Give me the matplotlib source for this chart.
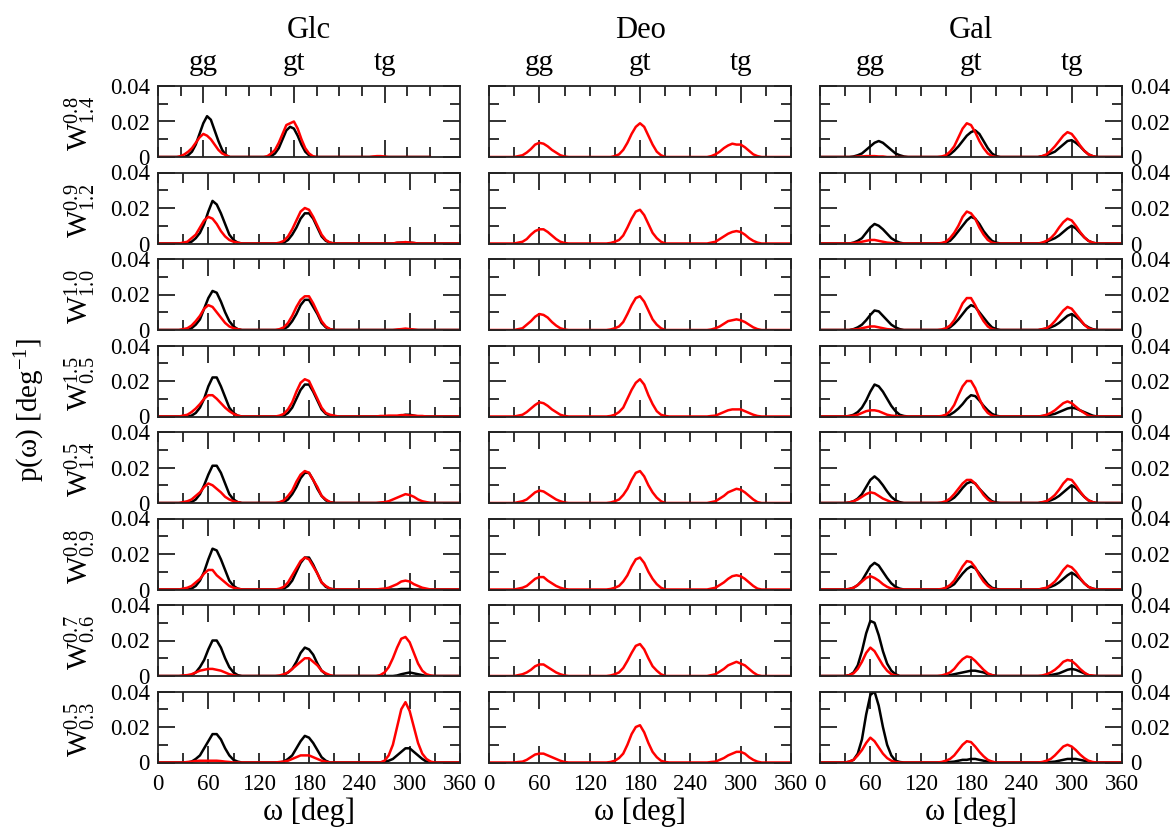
import numpy as np
import matplotlib.pyplot as plt
from matplotlib.ticker import FixedLocator, FuncFormatter

plt.rcParams['font.family'] = 'Liberation Serif'
plt.rcParams['mathtext.fontset'] = 'custom'
plt.rcParams['mathtext.rm'] = 'Liberation Serif'
plt.rcParams['mathtext.it'] = 'Liberation Serif:italic'

# histogram grid (deg); p(omega) is zero outside the three rotamer windows
omega = np.arange(0, 361, 5)
gg_deg = np.arange(25, 101, 5)
gt_deg = np.arange(135, 221, 5)
tg_deg = np.arange(250, 346, 5)

columns = ['Glc', 'Deo', 'Gal']
rotamers = ['gg', 'gt', 'tg']
row_labels = [r'$\mathrm{W}^{0.8}_{1.4}$', r'$\mathrm{W}^{0.9}_{1.2}$',
              r'$\mathrm{W}^{1.0}_{1.0}$', r'$\mathrm{W}^{1.5}_{0.5}$',
              r'$\mathrm{W}^{0.5}_{1.4}$', r'$\mathrm{W}^{0.8}_{0.9}$',
              r'$\mathrm{W}^{0.7}_{0.6}$', r'$\mathrm{W}^{0.5}_{0.3}$']

# values in units of 1e-3 deg^-1, one list per row
glc_black_gg = [
    [0,0,0,1,3,7,13,19,23,21,15,9,4,1,0,0],
    [0,0,0.5,1,3,6,11,18,24,22,17,11,5,2,0.5,0],
    [0,0,0,1,3,6,12,18,22,21,16,10,5,2,0.5,0],
    [0,0,0,0.5,2,5,10,17,22,22,17,11,5,2,0.5,0],
    [0,0,0,0.5,2,5,10,16,21,21,17,11,5,2,0.5,0],
    [0,0,0,0.5,2,5,10,17,23,22,17,11,5,2,0.5,0],
    [0,0,0,0.5,2,5,9,15,20,20,16,10,5,2,0.5,0],
    [0,0,0,0.5,2,4,8,12,16,16,13,8,4,1.5,0.5,0],
]
glc_black_gt = [
    [0,0,0,0.5,2,5,10,15,17,16,12,7,3,1,0,0,0,0],
    [0,0,0,0.5,2,5,9,14,17,17,14,9,4,1.5,0.5,0,0,0],
    [0,0,0,0.5,2,5,9,14,17,17,13,9,4,1.5,0.5,0,0,0],
    [0,0,0,0.5,2,5,10,15,18,18,14,9,4,1.5,0.5,0,0,0],
    [0,0,0,0.5,2,5,9,14,17,17,13,8,4,1.5,0.5,0,0,0],
    [0,0,0,0.5,2,5,10,15,18,18,14,9,4,1.5,0.5,0,0,0],
    [0,0,0,0.5,2,4,8,13,16,15,12,7,3,1,0,0,0,0],
    [0,0,0,0.5,2,4,8,12,15,14,11,7,3,1,0,0,0,0],
]
glc_black_tg = [
    [0,0,0,0,0,0,0,0,0,0,0,0,0,0,0,0,0,0,0,0],
    [0,0,0,0,0,0,0,0.3,0.5,0.5,0.5,0.3,0,0,0,0,0,0,0,0],
    [0,0,0,0,0,0,0,0,0.3,0.3,0.3,0,0,0,0,0,0,0,0,0],
    [0,0,0,0,0,0,0,0,0.5,1,1,0.5,0,0,0,0,0,0,0,0],
    [0,0,0,0,0,0,0,0,0,0,0,0,0,0,0,0,0,0,0,0],
    [0,0,0,0,0,0,0,0,0.3,0.3,0.3,0,0,0,0,0,0,0,0,0],
    [0,0,0,0,0,0,0,0.3,1,1.5,2,1.5,1,0.5,0,0,0,0,0,0],
    [0,0,0,0,0.5,1,2,4,6,8,8,6,4,2,0.5,0,0,0,0,0],
]
glc_red_gg = [
    [0,0.5,1.5,3,5,8,11,13,12,10,7,4,2,1,0,0],
    [0,0.5,1,3,5,9,13,15,14,11,7,4,2,1,0.5,0],
    [0,0.5,1,2.5,5,8,12,14,13,10,7,4,2,1,0.5,0],
    [0,0.5,1,2.5,4.5,7,10,12,12,10,7.5,5,3,1.5,0.5,0],
    [0,0.5,1,2,4,6,9,11,10,8,6,3.5,2,1,0.5,0],
    [0,0.5,1,2,4,6,9,11,11,8,6,4,2,1,0.5,0],
    [0,0.3,0.5,1,2,3,3.5,4,4,3.5,3,2,1,0.5,0,0],
    [0,0,0.3,0.5,0.8,1,1,1,1,1,0.8,0.5,0.3,0,0,0],
]
glc_red_gt = [
    [0,0,0.5,2,4,8,13,18,19,20,16,10,5,2,0.5,0,0,0],
    [0,0,0.5,1.5,4,8,13,18,20,19,15,10,5,2,0.5,0,0,0],
    [0,0,0.5,1.5,4,8,13,17,19,19,15,10,5,2,0.5,0,0,0],
    [0,0,0.5,1.5,4,8,14,19,21,20,15,10,5,2,1,0.5,0,0],
    [0,0,0.5,1.5,4,7,12,16,18,17,13,9,4,2,0.5,0,0,0],
    [0,0,0.5,1.5,4,8,12,16,18,17,13,9,4,2,0.5,0,0,0],
    [0,0,0.3,1,2,4,6,8,10,10,8,6,3,1.5,0.5,0,0,0],
    [0,0,0.3,0.5,1,2,3,4,4,4,3,2,1,0.5,0,0,0,0],
]
glc_red_tg = [
    [0,0,0,0,0,0,0,0.3,0.5,0.5,0.3,0,0,0,0,0,0,0,0,0],
    [0,0,0,0,0,0,0,0.5,0.5,0.8,0.5,0.3,0,0,0,0,0,0,0,0],
    [0,0,0,0,0,0,0,0.3,0.5,0.8,0.5,0.3,0,0,0,0,0,0,0,0],
    [0,0,0,0.3,0.3,0.5,0.5,0.5,0.8,0.8,0.5,0.5,0.3,0.3,0,0,0,0,0,0],
    [0,0,0,0.3,0.5,1,2,3,4,5,4.5,3.5,2,1,0.5,0,0,0,0,0],
    [0,0,0,0.3,0.5,1,2,3,4.5,5,4.5,3,2,1,0.5,0,0,0,0,0],
    [0,0,0,0.5,2,5,10,16,21,22,19,13,7,3,1,0.3,0,0,0,0],
    [0,0,0,0,1,4,10,20,30,34,29,20,11,5,2,0.5,0,0,0,0],
]
deo_red_gg = [
    [0,0,0.5,1,2.5,4.5,7,8,7.5,6,4,2.5,1,0.3,0,0],
    [0,0,0.5,1,2.5,5,7,8,8,6.5,4.5,2.5,1,0.3,0,0],
    [0,0,0.5,1,3,5,7.5,9,8.5,7,4.5,2.5,1,0.3,0,0],
    [0,0,0.5,1,2.5,4.5,6.5,8,7.5,6,4,2.5,1,0.3,0,0],
    [0,0,0.5,1,2,4,6,7,6.5,5,3.5,2,1,0.3,0,0],
    [0,0,0.5,1,2,4,6,7,7,5,3.5,2,1,0.3,0,0],
    [0,0,0.5,1,2,3.5,5.5,6.5,6.5,5,3.5,2,1,0.3,0,0],
    [0,0,0.3,0.5,1.5,3,4.5,5,5,4,3,2,1,0.3,0,0],
]
deo_red_gt = [
    [0,0,0,0.5,1.5,4,8,13,17,19,17,12,7,3,1,0,0,0],
    [0,0,0.3,1,2,4.5,9,14,18,19,16,11,6,3,1,0,0,0],
    [0,0,0.3,1,2,4.5,9,14,18,19,16,11,6,3,1,0,0,0],
    [0,0,0.3,1,2.5,5,10,15,19,21,18,12,7,3,1,0.3,0,0],
    [0,0,0.3,1,2,4.5,8,13,17,18,15,10,6,3,1,0,0,0],
    [0,0,0.3,1,2,4.5,8,13,17,18,15,10,6,3,1,0,0,0],
    [0,0,0.3,1,2,4.5,8.5,13,17,18,15,10,5.5,3,1,0,0,0],
    [0,0,0.3,1,2.5,5,10,16,20,21,17,11,6,3,1,0.3,0,0],
]
deo_red_tg = [
    [0,0,0,0.5,1.5,3,5,6.5,7.5,7,7,5.5,3.5,1.5,0.5,0,0,0,0,0],
    [0,0,0,0.5,1,2.5,4,5.5,6.5,7,6.5,5,3,1.5,0.5,0,0,0,0,0],
    [0,0,0,0.3,1,2,3.5,5,5.5,6,5.5,4.5,3,1.5,0.5,0,0,0,0,0],
    [0,0,0,0.3,0.5,1.5,2.5,3.5,4,4,4,3,2,1,0.3,0,0,0,0,0],
    [0,0,0,0.5,1,2.5,4,6,7,8,7.5,6,4,2,0.5,0,0,0,0,0],
    [0,0,0,0.5,1,2.5,4,6,7.5,8,7.5,6,4,2,0.5,0,0,0,0,0],
    [0,0,0,0.5,1,2.5,4,6,7,8,7,6,4,2,0.5,0,0,0,0,0],
    [0,0,0,0.3,0.5,1.5,2.5,4,5,6,6,5,3,1.5,0.5,0,0,0,0,0],
]
gal_black_gg = [
    [0,0,0,0.3,1,2,4,6,8,9,8,6,4,2,1,0.3],
    [0,0,0,0.5,1.5,3,6,9,11,10,8,5.5,3,1.5,0.5,0],
    [0,0,0,0.5,1.5,3,5.5,8.5,11,10.5,8,5.5,3,1.5,0.5,0],
    [0,0,0.3,1,2.5,5,9,14,18,17,14,10,6,3,1,0.3],
    [0,0,0.3,1,2.5,5,9,13,15,13,10,6.5,3.5,1.5,0.5,0],
    [0,0,0.3,1,2.5,5,9,13,15,13.5,10,6.5,3.5,1.5,0.5,0],
    [0,0,0.5,2,6,14,24,31,30,23,14,7,3,1,0,0],
    [0,0,0.5,1.5,5,13,27,38,40,32,20,10,4,1,0.3,0],
]
gal_black_gt = [
    [0,0,0,0.5,1.5,3.5,6,9,12,14,15,13,9,5,2,0.5,0,0],
    [0,0,0,0.5,1.5,4,7,10,13,15,14,11,7,4,1.5,0.5,0,0],
    [0,0,0,0.5,1.5,3.5,6,9,12,14,13,10,7,4,1.5,0.5,0,0],
    [0,0,0,0.5,1,2.5,4.5,7,10,12,11.5,9,6,3.5,1.5,0.5,0,0],
    [0,0,0,0.5,1.5,3,5.5,8.5,11,12,11,8,5.5,3,1,0.3,0,0],
    [0,0,0,0.5,1.5,3,6,9,11.5,13,12,9,6,3,1,0.3,0,0],
    [0,0,0,0,0.5,1,1.5,2,2.5,3,3,2.5,2,1,0.5,0,0,0],
    [0,0,0,0,0.3,0.5,1,1.5,1.5,2,2,1.5,1,0.5,0.3,0,0,0],
]
gal_black_tg = [
    [0,0,0,0.5,1,2,3,5,7,9,9.5,8,6,3.5,1.5,0.5,0,0,0,0],
    [0,0,0,0.3,1,2,3,4.5,6.5,8.5,10,8.5,6,3.5,1.5,0.5,0,0,0,0],
    [0,0,0,0.3,0.8,1.5,2.5,4,6,8,9,7.5,5.5,3,1.5,0.5,0,0,0,0],
    [0,0,0,0.3,0.5,1,1.5,2.5,3.5,4.5,5,4.5,3.5,2.5,1.5,0.5,0,0,0,0],
    [0,0,0,0.3,0.8,1.5,2.5,4,6,8,10,8.5,6,3.5,1.5,0.5,0,0,0,0],
    [0,0,0,0.3,0.8,1.5,2.5,4,6,8,9.5,8,6,3.5,1.5,0.5,0,0,0,0],
    [0,0,0,0,0.3,0.5,1,1.5,2.5,3.5,4,3.5,2.5,1.5,0.5,0,0,0,0,0],
    [0,0,0,0,0,0.3,0.5,1,1.5,2,2,2,1.5,1,0.5,0,0,0,0,0],
]
gal_red_gg = [
    [0,0,0,0,0.3,0.3,0.5,0.5,0.5,0.3,0.3,0,0,0,0,0],
    [0,0,0,0.3,0.5,1,1.5,2,2,1.5,1,0.5,0.3,0,0,0],
    [0,0,0,0.3,0.5,1,1.5,2,2,1.5,1,0.5,0.3,0,0,0],
    [0,0,0.3,0.5,1,2,3,3.5,3.5,3,2,1,0.5,0.3,0,0],
    [0,0,0.3,1,2,3.5,5,6,5.5,4,2.5,1.5,0.5,0.3,0,0],
    [0,0,0.3,1,2.5,4.5,6.5,7.5,6.5,5,3,1.5,0.5,0.3,0,0],
    [0,0,0.5,1.5,4,8,13,16,14,10,6,3,1,0.3,0,0],
    [0,0,0.5,1.5,4,7,11,14,12,8.5,5,2.5,1,0.3,0,0],
]
gal_red_gt = [
    [0,0,0.3,1,3,6,11,16,19,18,14,9,5,2,0.5,0,0,0],
    [0,0,0.3,1,3,6,10,15,18,17,14,9,5,2,0.5,0,0,0],
    [0,0,0.3,1,2.5,5.5,10,15,18,18,14,9,5,2,0.5,0,0,0],
    [0,0,0.3,1,3,6.5,12,17,20,20,16,10,5,2,0.5,0,0,0],
    [0,0,0.3,1,2.5,5,8,11,13,13,11,8,4.5,2,0.5,0,0,0],
    [0,0,0.3,1,2.5,5,9,13,16,15.5,12.5,8,4.5,2,0.5,0,0,0],
    [0,0,0.3,1,2,4,7,9.5,11,10.5,8.5,6,3.5,1.5,0.5,0,0,0],
    [0,0,0.3,1,2,4,7,10,12,11.5,9,6,3.5,1.5,0.5,0,0,0],
]
gal_red_tg = [
    [0,0,0,0.5,1.5,3.5,6,9,12,14,13,10,6.5,3.5,1.5,0.5,0,0,0,0],
    [0,0,0,0.5,1.5,3,5.5,9,12,14,13,10,6.5,3.5,1.5,0.5,0,0,0,0],
    [0,0,0,0.5,1,2.5,5,8,11,13,12,9,6,3,1,0.3,0,0,0,0],
    [0,0,0,0.3,1,2,3.5,5.5,7.5,8.5,7.5,5.5,3.5,2,0.5,0,0,0,0,0],
    [0,0,0,0.5,1,2.5,4.5,7.5,11,13.5,13,10,6.5,3.5,1.5,0.5,0,0,0,0],
    [0,0,0,0.5,1,2.5,4.5,7.5,11,13.5,12.5,10,6.5,3.5,1.5,0.5,0,0,0,0],
    [0,0,0,0.3,1,2,3.5,5.5,8,9,8.5,6.5,4,2,0.5,0.3,0,0,0,0],
    [0,0,0,0.3,1,2,4,6.5,9,10,9,7,4.5,2.5,1,0.3,0,0,0,0],
]


def curve(gg, gt, tg):
    p = np.zeros(len(omega))
    p[np.isin(omega, gg_deg)] = gg
    p[np.isin(omega, gt_deg)] = gt
    p[np.isin(omega, tg_deg)] = tg
    return p * 1e-3


# (black, red) series per column, None when the column has no such curve
series = [
    ((glc_black_gg, glc_black_gt, glc_black_tg), (glc_red_gg, glc_red_gt, glc_red_tg)),
    (None, (deo_red_gg, deo_red_gt, deo_red_tg)),
    ((gal_black_gg, gal_black_gt, gal_black_tg), (gal_red_gg, gal_red_gt, gal_red_tg)),
]

W, H = 1175, 834
fig = plt.figure(figsize=(W / 100, H / 100), dpi=100)
col_x = [158, 489, 820]
pw, ph = 302, 71
row_y = [86 + 86.5 * i for i in range(8)]

ytick_fmt = FuncFormatter(lambda v, p: '0' if abs(v) < 1e-9 else '%.2f' % v)
xtick_fmt = FuncFormatter(lambda v, p: '%d' % v if v % 60 == 0 else '')

for r in range(8):
    for c in range(3):
        ax = fig.add_axes([col_x[c] / W, 1 - (row_y[r] + ph) / H, pw / W, ph / H])
        xmax = 400 if (r == 0 and c == 0) else 360
        ax.set_xlim(0, xmax)
        ax.set_ylim(0, 0.04)

        black, red = series[c]
        if black is not None:
            ax.plot(omega, curve(black[0][r], black[1][r], black[2][r]),
                    color='black', lw=1.8)
        ax.plot(omega, curve(red[0][r], red[1][r], red[2][r]), color='red', lw=1.8)

        ax.xaxis.set_major_locator(FixedLocator([60, 180, 300]))
        ax.xaxis.set_minor_locator(FixedLocator([0, 30, 90, 120, 150, 210, 240, 270, 330, 360]))
        ax.xaxis.set_major_formatter(xtick_fmt)
        ax.xaxis.set_minor_formatter(xtick_fmt)
        ax.yaxis.set_major_locator(FixedLocator([0, 0.02, 0.04]))
        ax.yaxis.set_minor_locator(FixedLocator([0.01, 0.03]))
        ax.yaxis.set_major_formatter(ytick_fmt)

        ax.tick_params(which='both', direction='in', top=True, right=True,
                       width=1.3, labelsize=16.5, color='#222222',
                       labelleft=(c == 0), labelright=(c == 2),
                       labelbottom=(r == 7))
        ax.tick_params(which='major', length=12)
        ax.tick_params(which='minor', length=7)
        ax.tick_params(axis='x', which='both', pad=8)
        ax.tick_params(axis='y', which='both', pad=6)
        for s in ax.spines.values():
            s.set_linewidth(1.3)
            s.set_color('#222222')

        if r == 0:
            sec = ax.secondary_xaxis('top')
            sec.set_xticks([60, 180, 300])
            sec.set_xticklabels(rotamers)
            sec.tick_params(length=0, pad=7, labelsize=21)
            sec.spines['top'].set_visible(False)
        if r == 7:
            ax.set_xlabel('ω [deg]', fontsize=22, labelpad=2)

    fig.text(80 / W, 1 - (row_y[r] + 38) / H, row_labels[r], rotation=90,
             ha='center', va='center', fontsize=21)

for c in range(3):
    fig.text((col_x[c] + pw / 2) / W, 1 - 38 / H, columns[c],
             ha='center', va='baseline', fontsize=22)

fig.text(30 / W, 1 - 410 / H, r'p(ω) [deg$^{-1}$]', rotation=90,
         ha='center', va='center', fontsize=21)

fig.savefig('out.png', dpi=100)
